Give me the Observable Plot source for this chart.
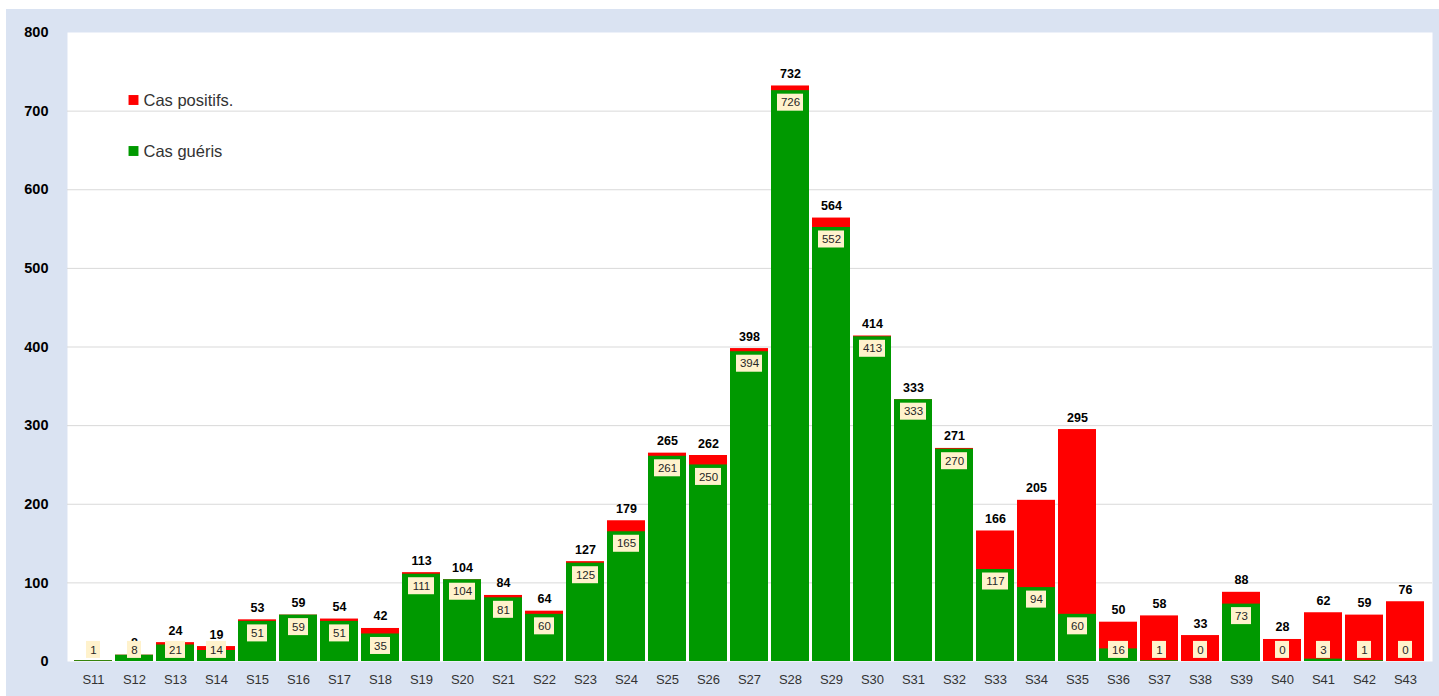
<!DOCTYPE html>
<html>
<head>
<meta charset="utf-8">
<script src="https://cdn.jsdelivr.net/npm/d3@7"></script>
<script src="https://cdn.jsdelivr.net/npm/@observablehq/plot@0.6"></script>
<style>
  body { margin: 0; background: #ffffff; }
  #chart { position: absolute; left: 6px; top: 9px; }
  #chart svg { background: #dae3f2; display: block; }
</style>
</head>
<body>
<div id="chart"></div>
<script>
const weeks = ["S11","S12","S13","S14","S15","S16","S17","S18","S19","S20","S21","S22","S23","S24","S25","S26","S27","S28","S29","S30","S31","S32","S33","S34","S35","S36","S37","S38","S39","S40","S41","S42","S43"];
const positifs = [1,8,24,19,53,59,54,42,113,104,84,64,127,179,265,262,398,732,564,414,333,271,166,205,295,50,58,33,88,28,62,59,76];
const gueris = [1,8,21,14,51,59,51,35,111,104,81,60,125,165,261,250,394,726,552,413,333,270,117,94,60,16,1,0,73,0,3,1,0];
const yTicks = [0,100,200,300,400,500,600,700,800];
const gridTicks = [100,200,300,400,500,600,700];
const legendLabels = ["Cas positifs.", "Cas guéris"];
const legendColors = ["#ff0000", "#009900"];

const data = weeks.map((w, i) => ({week: w, positifs: positifs[i], gueris: gueris[i]}));

// label box geometry (in data units of the y scale: 800 units over 629 px)
const unitsPerPx = 800 / 629;
const labelY = d => Math.max(d.gueris, 30) - 12 * unitsPerPx;
const boxHalf = 8.5 * unitsPerPx;
const boxMark = (digits, inset) => Plot.rectY(data.filter(d => String(d.gueris).length === digits), {
  x: "week",
  y1: d => labelY(d) - boxHalf,
  y2: d => labelY(d) + boxHalf,
  fill: "#fff2cc",
  insetLeft: inset,
  insetRight: inset
});

const legendMarks = legendLabels.flatMap((label, i) => {
  const dy = [67.5, 118.5][i];
  return [
    Plot.dot([label], {frameAnchor: "top-left", dx: 66, dy, symbol: "square", r: 5.6, fill: legendColors[i], stroke: "none"}),
    Plot.text([label], {frameAnchor: "top-left", dx: 76, dy: dy + 1, text: d => d, textAnchor: "start", lineAnchor: "middle", fontSize: 16.5, fill: "#333"})
  ];
});

const svg = Plot.plot({
  width: 1433,
  height: 687,
  marginLeft: 61,
  marginRight: 7,
  marginTop: 23,
  marginBottom: 35,
  style: {fontFamily: "'Liberation Sans', Arial, sans-serif", background: "#dae3f2"},
  x: {domain: weeks, paddingInner: 0.07, paddingOuter: 0.035, label: null},
  y: {domain: [0, 800], label: null},
  marks: [
    Plot.frame({fill: "#ffffff", stroke: "none"}),
    Plot.gridY({ticks: gridTicks, stroke: "#d9d9d9", strokeOpacity: 1}),
    Plot.axisY({ticks: yTicks, tickSize: 0, tickPadding: 19, fontSize: 14.5, fontWeight: "bold", fill: "#000", label: null}),
    Plot.axisX({tickSize: 0, tickPadding: 13, fontSize: 13, fill: "#333", label: null}),
    Plot.barY(data, {x: "week", y: "positifs", fill: "#ff0000"}),
    Plot.barY(data, {x: "week", y: "gueris", fill: "#009900"}),
    Plot.text(data, {x: "week", y: "positifs", text: d => String(d.positifs), dy: -12, fontSize: 12.5, fontWeight: "bold", fill: "#000"}),
    boxMark(1, 12),
    boxMark(2, 9),
    boxMark(3, 6),
    Plot.text(data, {x: "week", y: labelY, text: d => String(d.gueris), fontSize: 11.5, fill: "#262626"}),
    ...legendMarks
  ]
});
document.getElementById("chart").appendChild(svg);
</script>
</body>
</html>
